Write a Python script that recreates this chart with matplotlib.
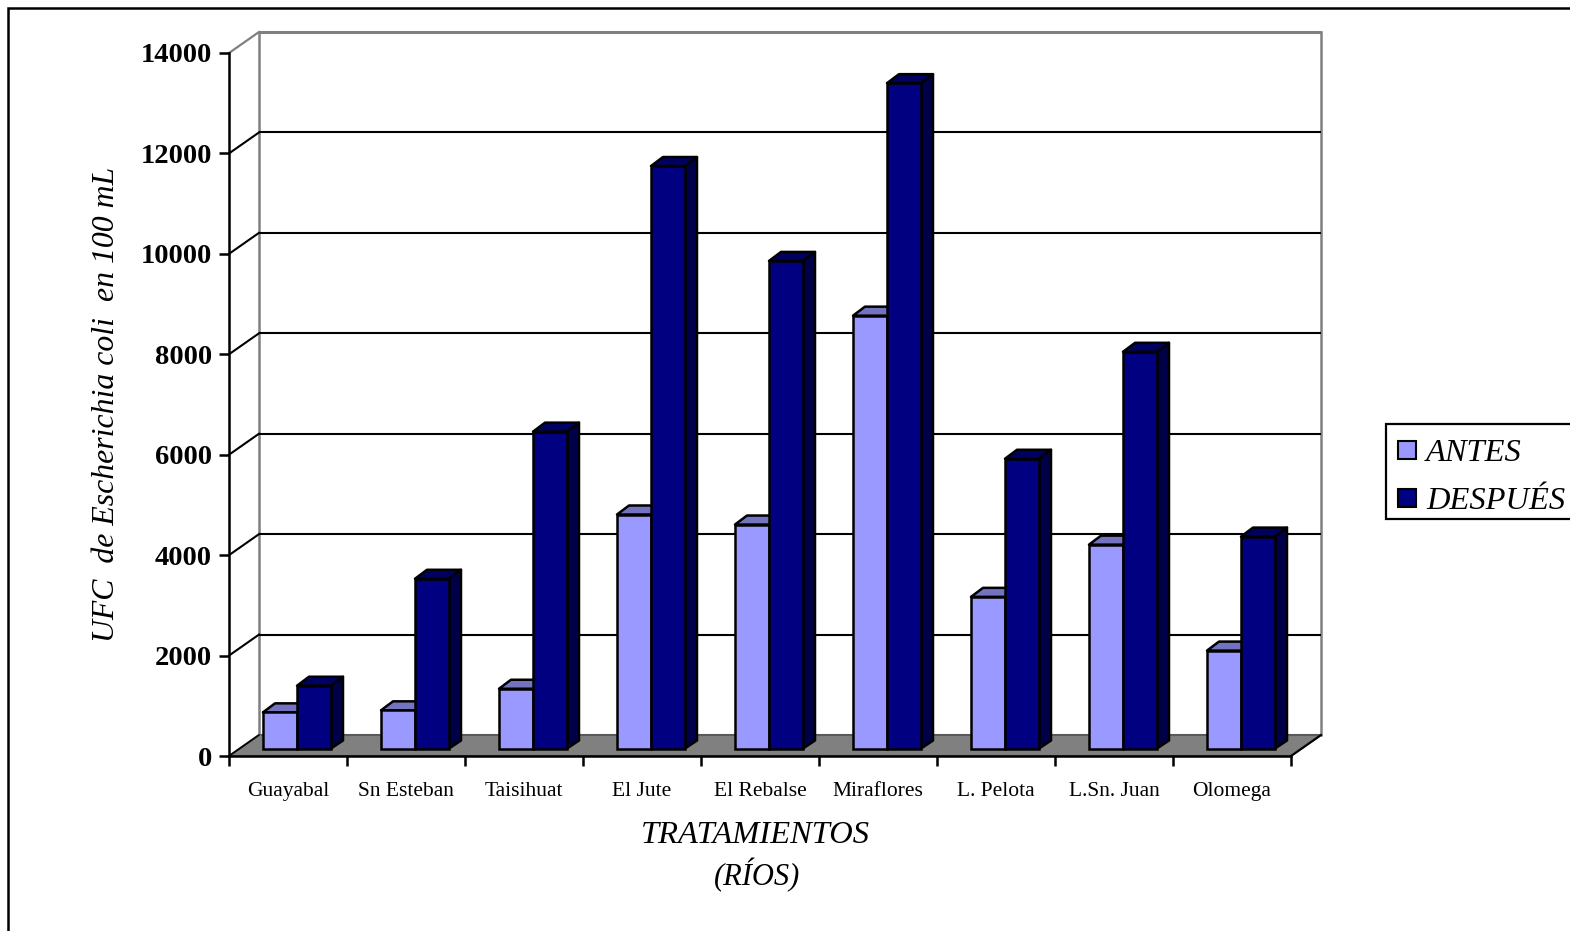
import matplotlib
matplotlib.use('Agg')
import matplotlib.pyplot as plt
from matplotlib.patches import Rectangle, Polygon

plt.rcParams['font.family'] = ['Liberation Serif', 'DejaVu Serif']

rios = ['Guayabal', 'Sn Esteban', 'Taisihuat', 'El Jute', 'El Rebalse',
        'Miraflores', 'L. Pelota', 'L.Sn. Juan', 'Olomega']
antes = [720, 760, 1190, 4660, 4460, 8620, 3020, 4060, 1950]
despues = [1250, 3380, 6310, 11600, 9710, 13250, 5770, 7900, 4220]
yticks = [0, 2000, 4000, 6000, 8000, 10000, 12000, 14000]

W, H = 1570, 931
AX_L, AX_R, AX_T, AX_B = 229, 1291, 53, 756

# px per unit on the front plane
sx = (AX_R - AX_L) / 9
sy = (AX_B - AX_T) / 14000

# chart depth and bar depth, in data units
wall_dx, wall_dy = 30 / sx, 21 / sy
bar_dx, bar_dy, foot_dy = 12 / sx, 9 / sy, 8 / sy
base = 7.5 / sy
bar_w = 34 / sx
bar_off = 34 / sx

c_antes = '#9999ff'
c_antes_top = '#7373bf'
c_despues = '#000080'
c_despues_top = '#000060'
c_despues_side = '#000048'
c_antes_side = '#5c5c99'

fig = plt.figure(figsize=(W / 100, H / 100), dpi=100)
ax = fig.add_axes([AX_L / W, 1 - AX_B / H, (AX_R - AX_L) / W, (AX_B - AX_T) / H])
ax.set_xlim(0, 9)
ax.set_ylim(0, 14000)
ax.patch.set_visible(False)

# outer frame, right and bottom edges run off the image
fig.add_artist(Rectangle((8 / W, -0.1), 1.2, 1.1 - 8 / H, transform=fig.transFigure,
                         fill=False, ec='black', lw=1.8))

# floor and back wall
ax.add_patch(Polygon([(0, 0), (9, 0), (9 + wall_dx, wall_dy), (wall_dx, wall_dy)],
                     closed=True, fc='#808080', ec='#5a5a5a', lw=1.5, clip_on=False, zorder=1))
ax.plot([wall_dx, wall_dx], [wall_dy, 14000 + wall_dy], color='#808080', lw=1.8, clip_on=False, zorder=1.5)
ax.plot([9 + wall_dx, 9 + wall_dx], [wall_dy, 14000 + wall_dy], color='#808080', lw=1.8, clip_on=False, zorder=1.5)
ax.plot([wall_dx, 9 + wall_dx], [14000 + wall_dy] * 2, color='#808080', lw=2.2, clip_on=False, zorder=1.5,
        solid_capstyle='butt')
ax.plot([0, wall_dx], [14000, 14000 + wall_dy], color='#808080', lw=1.6, clip_on=False, zorder=1.5)
for t in yticks[1:-1]:
    ax.plot([wall_dx, 9 + wall_dx], [t + wall_dy] * 2, color='black', lw=1.5, clip_on=False, zorder=1.6,
            solid_capstyle='butt')
    ax.plot([0, wall_dx], [t, t + wall_dy], color='black', lw=1.5, clip_on=False, zorder=1.6)
ax.plot([0, wall_dx], [0, wall_dy], color='black', lw=1.2, clip_on=False, zorder=1.6)
ax.plot([9, 9 + wall_dx], [0, wall_dy], color='black', lw=1.5, clip_on=False, zorder=1.6)


def bar3d(x, v, front, top, side, z):
    y0, y1 = base, base + v
    ax.add_patch(Polygon([(x + bar_w, y0), (x + bar_w + bar_dx, y0 + foot_dy),
                          (x + bar_w + bar_dx, y1 + bar_dy), (x + bar_w, y1)],
                         closed=True, fc=side, ec='black', lw=1.8, zorder=z, joinstyle='round', clip_on=False))
    ax.add_patch(Polygon([(x, y1), (x + bar_dx, y1 + bar_dy),
                          (x + bar_w + bar_dx, y1 + bar_dy), (x + bar_w, y1)],
                         closed=True, fc=top, ec='black', lw=1.8, zorder=z, joinstyle='round', clip_on=False))
    ax.bar(x, v, bottom=y0, width=bar_w, align='edge', color=front, edgecolor='black',
           linewidth=1.8, zorder=z, clip_on=False)


for i in range(len(rios)):
    x = i + bar_off
    bar3d(x, antes[i], c_antes, c_antes_top, c_antes_side, 3 + i * 0.01)
    bar3d(x + bar_w, despues[i], c_despues, c_despues_top, c_despues_side, 3.5 + i * 0.01)

for s in ['top', 'right']:
    ax.spines[s].set_visible(False)
for s in ['left', 'bottom']:
    ax.spines[s].set_linewidth(1.8)
    ax.spines[s].set_zorder(2)

ax.set_yticks(yticks)
ax.set_yticklabels([str(t) for t in yticks], fontsize=20.5, fontweight='bold')
ax.set_xticks(range(10))
ax.set_xticklabels([])
ax.tick_params(axis='y', length=7.5, width=1.8, pad=5)
ax.tick_params(axis='x', length=7.5, width=1.8)

for i, r in enumerate(rios):
    ax.annotate(r, (i + 0.5, 0), xytext=(0, -19), textcoords='offset points',
                ha='center', va='top', fontsize=15.5)

fig.text(755 / W, 1 - 843 / H, 'TRATAMIENTOS', ha='center', va='baseline', fontsize=23.4, style='italic')
fig.text(757 / W, 1 - 885 / H, '(RÍOS)', ha='center', va='baseline', fontsize=22, style='italic')
fig.text(107 / W, 1 - 404 / H, 'UFC  de Escherichia coli  en 100 mL', rotation=90,
         ha='center', va='center', fontsize=22.9, style='italic')

# legend box is cut by the right side of the image
fig.add_artist(Rectangle((1386 / W, 1 - 518.5 / H), 300 / W, 95 / H, transform=fig.transFigure,
                         fc='white', ec='black', lw=1.6))
for yy, c, name in [(450, c_antes, 'ANTES'), (498, c_despues, 'DESPUÉS')]:
    fig.add_artist(Rectangle((1398 / W, 1 - (yy + 9) / H), 18 / W, 18 / H, transform=fig.transFigure,
                             fc=c, ec='black', lw=1.5))
    fig.text(1426 / W, 1 - (yy + 11) / H, name, ha='left', va='baseline', fontsize=23.4, style='italic')

fig.savefig('out.png', dpi=100)
